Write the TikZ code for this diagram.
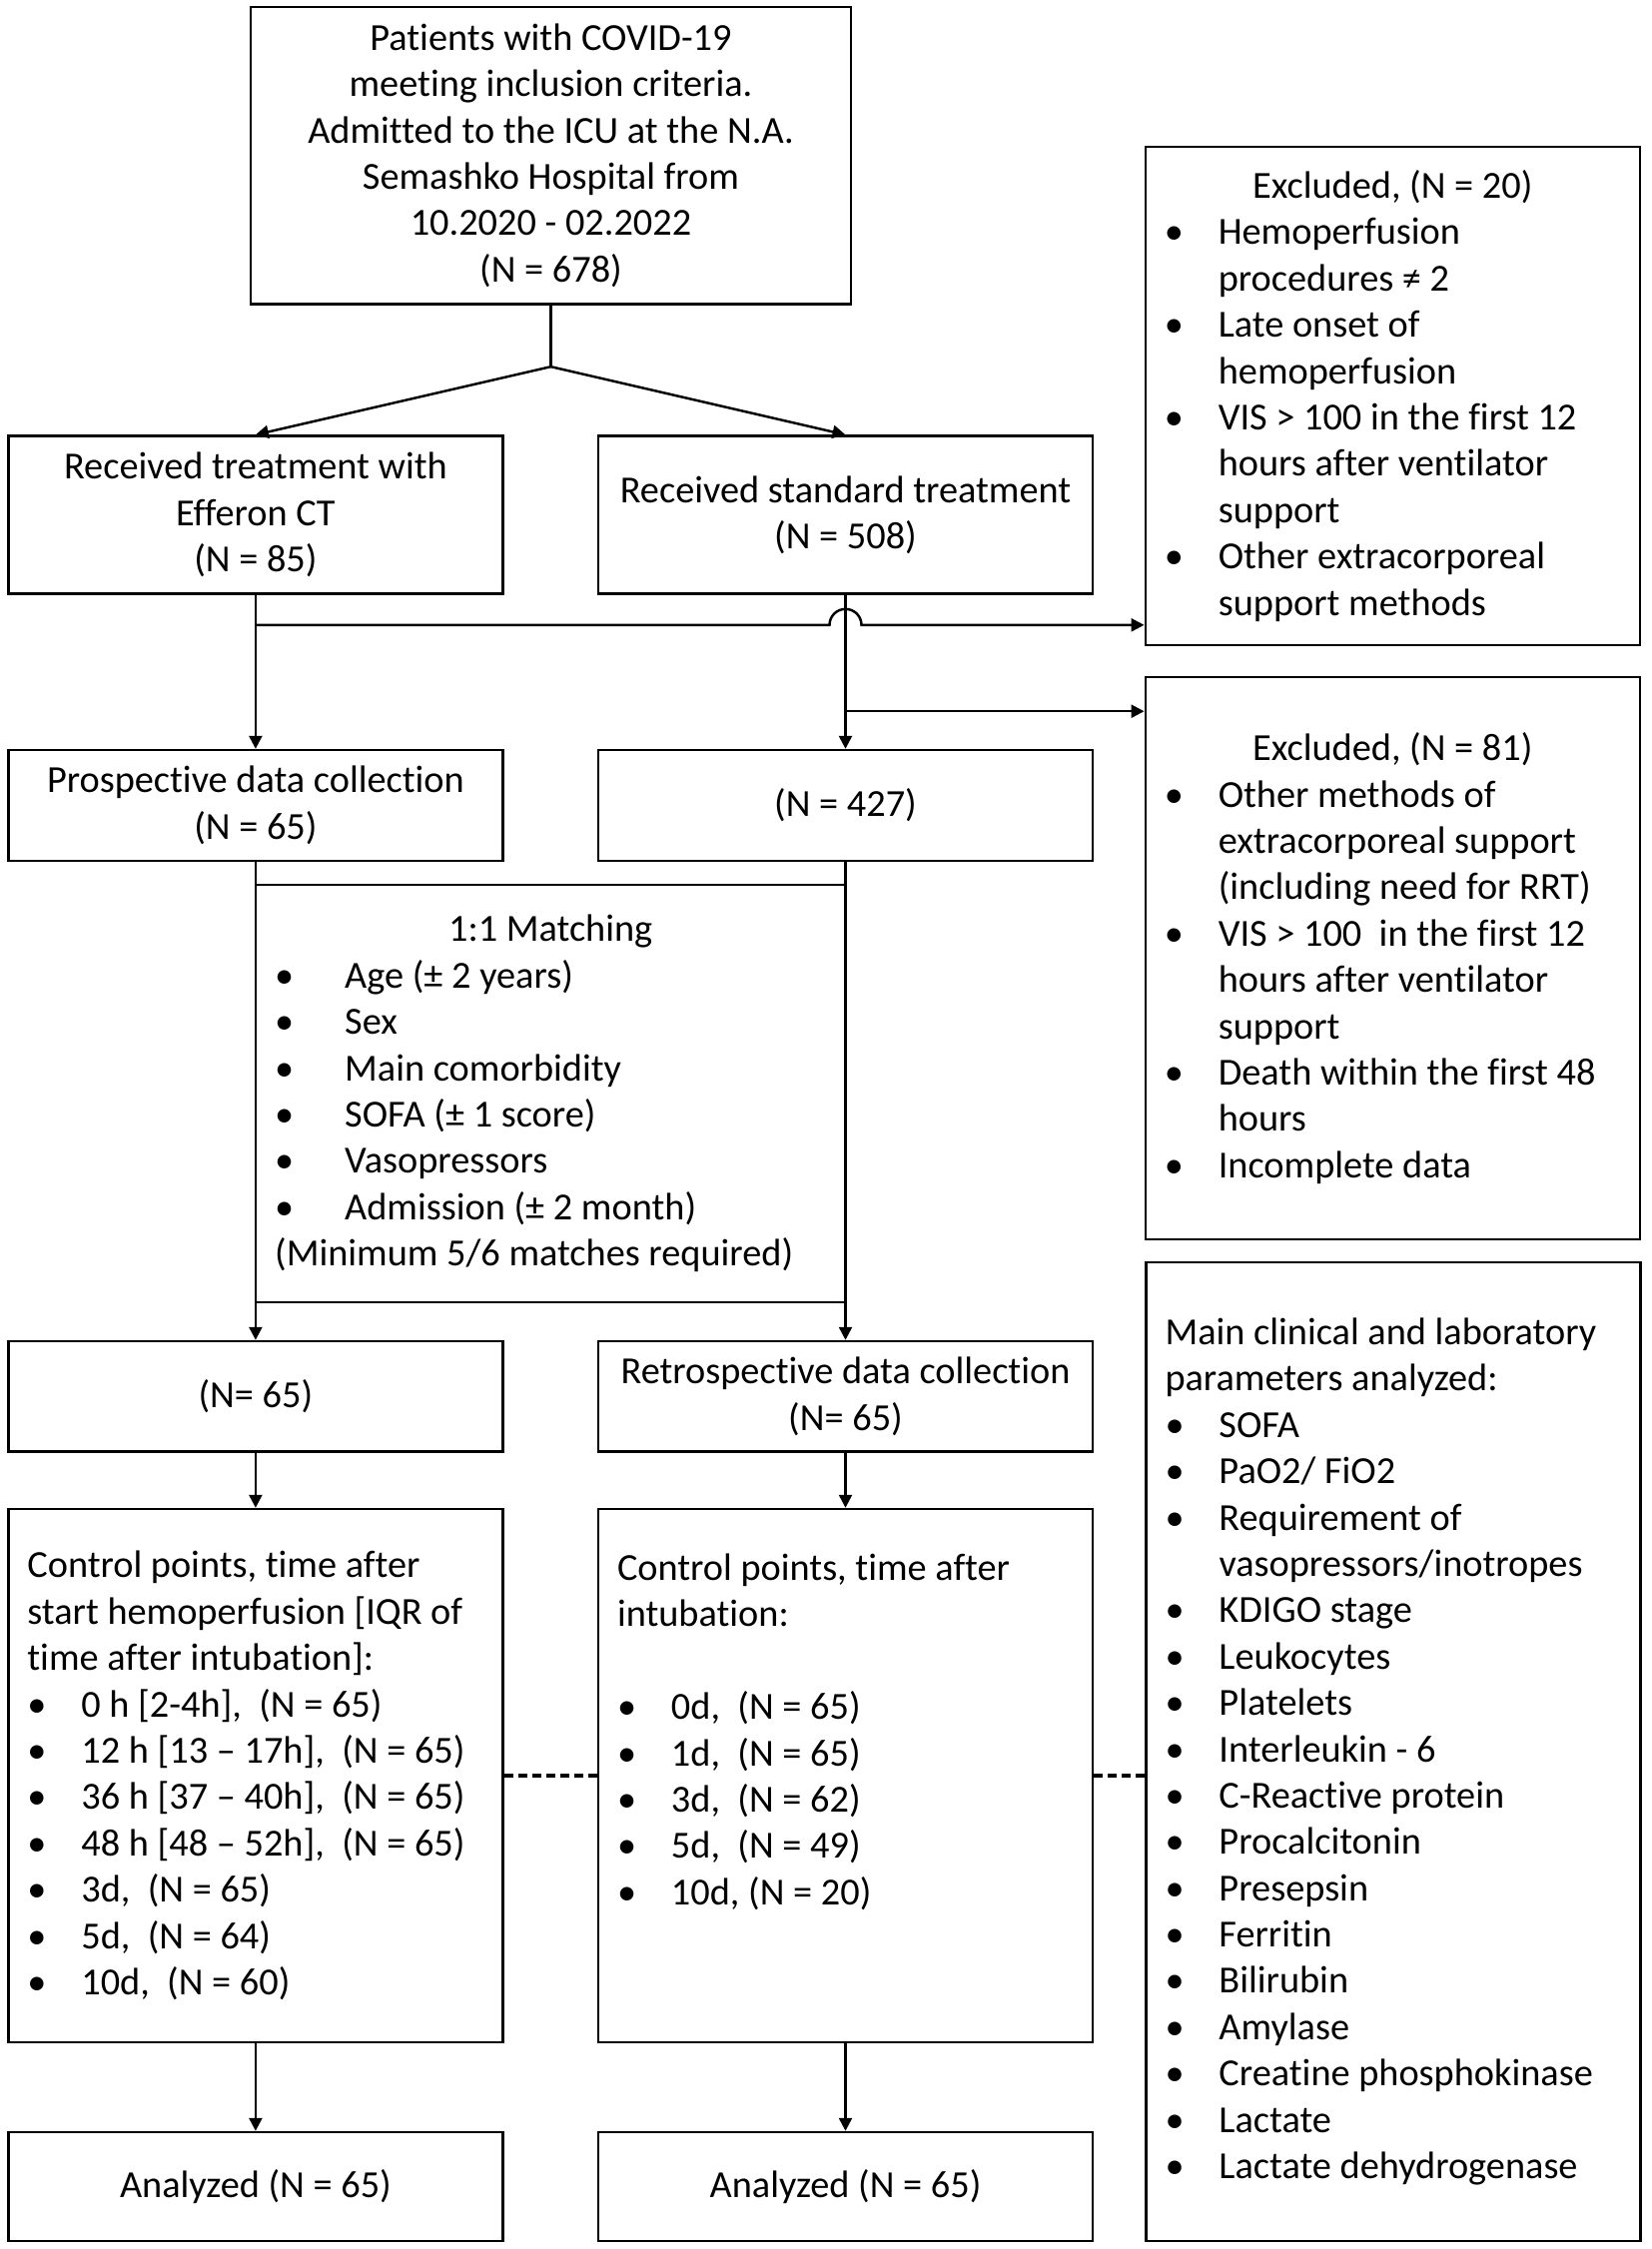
\documentclass[tikz,border=0pt]{standalone}
\usepackage{fontspec}
\setmainfont{Carlito}[Ligatures=NoCommon]
\usetikzlibrary{arrows.meta,calc}

\newcommand{\bul}{\makebox[0.54cm][l]{\textbullet}}
\newcommand{\cont}{\hspace*{0.54cm}}
\newcommand{\bulm}{\makebox[0.70cm][l]{\textbullet}}
\newcommand{\hd}[1]{\makebox[\linewidth]{#1}}

\tikzset{
  box/.style={draw, line width=0.7pt, inner sep=0pt, align=center},
  lst/.style={draw, line width=0.7pt, inner xsep=0.19cm, inner ysep=0pt, align=flush left,
    execute at begin node={\spaceskip=0pt\relax\xspaceskip=0pt\relax}},
  arr/.style={line width=0.7pt, -{Triangle[length=1.3mm,width=1.3mm]}},
  dsh/.style={line width=1pt, dash pattern=on 0.09cm off 0.05cm}
}

\begin{document}
\begin{tikzpicture}[font=\fontsize{10.9}{13.2}\selectfont]
\useasboundingbox (0,0) rectangle (16.53,-22.52);

% top of the chart
\node[box, minimum width=6.01cm, minimum height=2.975cm] (top) at (5.515,-1.557)
  {Patients with COVID-19\\ meeting inclusion criteria.\\ Admitted to the ICU at the N.A.\\ Semashko Hospital from\\ 10.2020 - 02.2022\\ (N = 678)};
\node[box, minimum width=4.95cm, minimum height=1.58cm] (effer) at (2.559,-5.156)
  {Received treatment with\\ Efferon CT\\ (N = 85)};
\node[box, minimum width=4.95cm, minimum height=1.58cm] (std) at (8.465,-5.156)
  {Received standard treatment\\ (N = 508)};

% exclusions
\node[lst, text width=4.57cm, minimum height=4.993cm] (exc20) at (13.943,-3.964)
  {\hd{Excluded, (N = 20)}\\
   \bul Hemoperfusion\\ \cont procedures ≠ 2\\
   \bul Late onset of\\ \cont hemoperfusion\\
   \bul VIS > 100 in the first 12\\ \cont hours after ventilator\\ \cont support\\
   \bul Other extracorporeal\\ \cont support methods};
\node[lst, text width=4.57cm, minimum height=5.63cm] (exc81) at (13.943,-9.595)
  {\hd{Excluded, (N = 81)}\\
   \bul Other methods of\\ \cont extracorporeal support\\ \cont (including need for RRT)\\
   \bul VIS > 100~ in the first 12\\ \cont hours after ventilator\\ \cont support\\
   \bul Death within the first 48\\ \cont hours\\
   \bul Incomplete data};

% collection
\node[box, minimum width=4.95cm, minimum height=1.107cm] (prosp) at (2.559,-8.064)
  {Prospective data collection\\ (N = 65)};
\node[box, minimum width=4.95cm, minimum height=1.107cm] (n427) at (8.465,-8.064)
  {(N = 427)};

% matching
\node[lst, text width=5.52cm, minimum height=4.18cm] (match) at (5.512,-10.95)
  {\hd{1:1 Matching}\\
   \bulm Age (± 2 years)\\
   \bulm Sex\\
   \bulm Main comorbidity\\
   \bulm SOFA (± 1 score)\\
   \bulm Vasopressors\\
   \bulm Admission (± 2 month)\\
   (Minimum 5/6 matches required)};

\node[box, minimum width=4.95cm, minimum height=1.104cm] (n65) at (2.559,-13.982)
  {(N= 65)};
\node[box, minimum width=4.95cm, minimum height=1.104cm] (retro) at (8.465,-13.982)
  {Retrospective data collection\\ (N= 65)};

% control points
\node[lst, text width=4.57cm, minimum height=5.34cm] (ctrlL) at (2.559,-17.78)
  {Control points, time after\\ start hemoperfusion [IQR of\\ time after intubation]:\\
   \bul 0 h [2-4h],~ (N = 65)\\
   \bul 12 h [13 – 17h],~ (N = 65)\\
   \bul 36 h [37 – 40h],~ (N = 65)\\
   \bul 48 h [48 – 52h],~ (N = 65)\\
   \bul 3d,~ (N = 65)\\
   \bul 5d,~ (N = 64)\\
   \bul 10d,~ (N = 60)};
\node[lst, text width=4.57cm, minimum height=5.34cm] (ctrlR) at (8.465,-17.78)
  {Control points, time after\\ intubation:\\ \mbox{}\\
   \bul 0d,~ (N = 65)\\
   \bul 1d,~ (N = 65)\\
   \bul 3d,~ (N = 62)\\
   \bul 5d,~ (N = 49)\\
   \bul 10d, (N = 20)\\ \mbox{}\\ \mbox{}};
\node[lst, text width=4.57cm, minimum height=9.80cm] (clin) at (13.95,-17.54)
  {Main clinical and laboratory\\ parameters analyzed:\\
   \bul SOFA\\
   \bul PaO2/ FiO2\\
   \bul Requirement of\\ \cont vasopressors/inotropes\\
   \bul KDIGO stage\\
   \bul Leukocytes\\
   \bul Platelets\\
   \bul Interleukin - 6\\
   \bul C-Reactive protein\\
   \bul Procalcitonin\\
   \bul Presepsin\\
   \bul Ferritin\\
   \bul Bilirubin\\
   \bul Amylase\\
   \bul Creatine phosphokinase\\
   \bul Lactate\\
   \bul Lactate dehydrogenase};

% analyzed
\node[box, minimum width=4.95cm, minimum height=1.09cm] (anaL) at (2.559,-21.895)
  {Analyzed (N = 65)};
\node[box, minimum width=4.95cm, minimum height=1.09cm] (anaR) at (8.465,-21.895)
  {Analyzed (N = 65)};

% connectors
\draw[line width=0.7pt] (top.south) -- ++(0,-0.615) coordinate (split);
\draw[arr] (split) -- (effer.north);
\draw[arr] (split) -- (std.north);
\draw[arr] (effer.south) -- (prosp.north);
\draw[arr] (std.south) -- (n427.north);
\coordinate (b1) at ($(effer.south)+(0,-0.30)$);
\coordinate (b2) at ($(std.south)+(0,-1.164)$);
\draw[arr] (b1) -- ($(b1 -| std.south)+(-0.16,0)$) arc[start angle=180, end angle=0, radius=0.16] -- (b1 -| exc20.west);
\draw[arr] (b2) -- (b2 -| exc81.west);
\draw[arr] (prosp.south) -- (n65.north);
\draw[arr] (n427.south) -- (retro.north);
\draw[arr] (n65.south) -- (ctrlL.north);
\draw[arr] (retro.south) -- (ctrlR.north);
\draw[arr] (ctrlL.south) -- (anaL.north);
\draw[arr] (ctrlR.south) -- (anaR.north);
\draw[dsh] (ctrlL.east) -- (ctrlR.west);
\draw[dsh] (ctrlR.east) -- (ctrlR.east -| clin.west);

\end{tikzpicture}
\end{document}
